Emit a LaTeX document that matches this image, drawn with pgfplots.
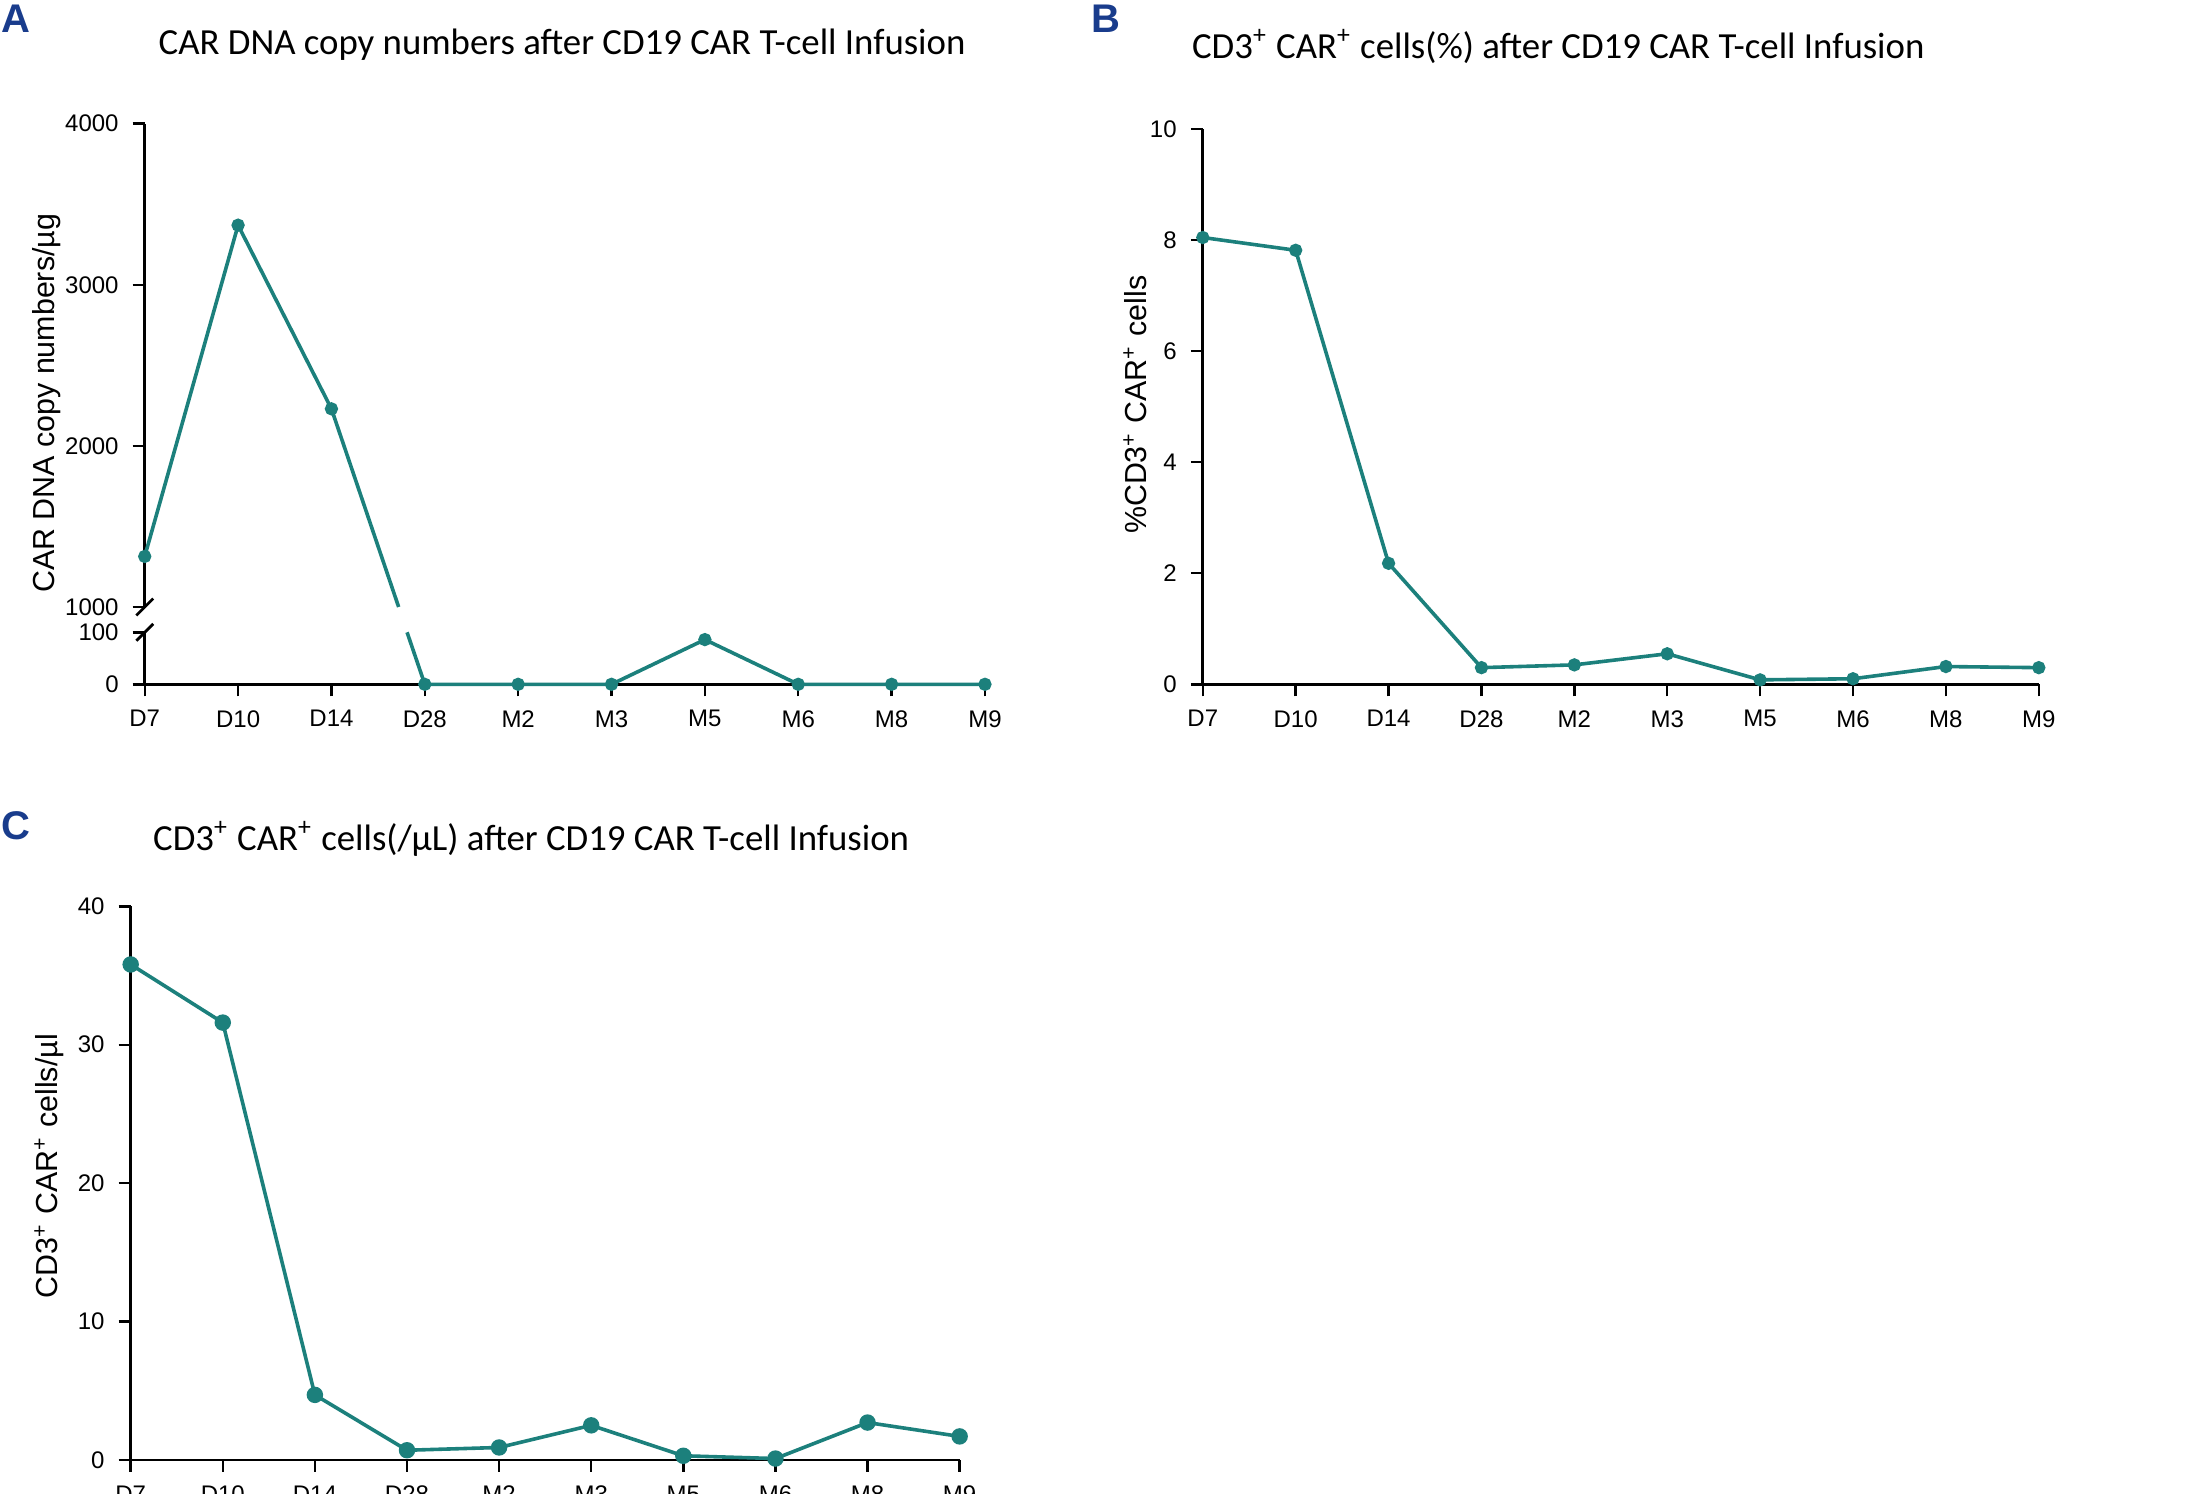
\documentclass[border=0pt]{standalone}
\usepackage{pgfplots}
\pgfplotsset{compat=1.18}
\usepackage{fontspec}
\setmainfont{Liberation Sans}
\newfontfamily\titlefont{Carlito}
\definecolor{teal1}{RGB}{28,128,124}
\definecolor{letblue}{RGB}{25,60,140}
\def\u{0.3513pt}
\pgfplotsset{
 base/.style={scale only axis, axis lines=left, axis line style={-,line width=0.7pt},
  tick style={black,line width=0.6pt}, tick align=outside, major tick length=3pt,
  ticklabel style={font=\fontsize{6}{7}\selectfont},
  xmin=0,xmax=9, xtick={0,...,9}, xticklabels={D7,D10,D14,D28,M2,M3,M5,M6,M8,M9},
  /pgf/number format/assume math mode=true, /pgf/number format/1000 sep={}, clip=false},
 ser/.style={teal1, line width=0.9pt, mark=*, mark size=1.2pt}
}
\begin{document}
\begin{tikzpicture}
\useasboundingbox (0,0) rectangle (1560*\u,-1063*\u);
% Panel A upper
\begin{axis}[base, at={(103*\u,-432*\u)}, anchor=south west, width=598*\u, height=344*\u,
  ymin=1000,ymax=4000, ytick={1000,2000,3000,4000}, x axis line style={draw=none},
  xtick=\empty, clip=true]
\addplot[ser] coordinates {(0,1314)(1,3370)(2,2230)};
\addplot[teal1, line width=0.9pt] coordinates {(2,2230)(2.72,1000)};
\end{axis}
% Panel A lower
\begin{axis}[base, at={(103*\u,-487*\u)}, anchor=south west, width=598*\u, height=37*\u,
  ymin=0,ymax=100, ytick={0,100}]
\addplot[teal1, line width=0.9pt] coordinates {(2.81,100)(3,0)};
\addplot[ser] coordinates {(3,0)(4,0)(5,0)(6,86)(7,0)(8,0)(9,0)};
\end{axis}
\draw[line width=0.7pt] (97*\u,-438*\u) -- (109*\u,-426*\u);
\draw[line width=0.7pt] (97*\u,-456*\u) -- (109*\u,-444*\u);
% Panel B
\begin{axis}[base, at={(856*\u,-487*\u)}, anchor=south west, width=595*\u, height=395*\u,
  ymin=0,ymax=10, ytick={0,2,...,10}]
\addplot[ser] coordinates {(0,8.05)(1,7.82)(2,2.18)(3,0.3)(4,0.35)(5,0.55)(6,0.08)(7,0.1)(8,0.32)(9,0.3)};
\end{axis}
% Panel C
\begin{axis}[base, at={(93*\u,-1039*\u)}, anchor=south west, width=590*\u, height=394*\u,
  ymin=0,ymax=40, ytick={0,10,...,40}]
\addplot[ser, mark size=1.6pt] coordinates {(0,35.8)(1,31.6)(2,4.7)(3,0.7)(4,0.9)(5,2.5)(6,0.3)(7,0.1)(8,2.7)(9,1.7)};
\end{axis}
% titles
\node[font=\titlefont\fontsize{9.2}{11}\selectfont] at (400*\u,-32*\u) {CAR DNA copy numbers after CD19 CAR T-cell Infusion};
\node[font=\titlefont\fontsize{9.2}{11}\selectfont] at (1109*\u,-33*\u) {CD3\textsuperscript{+} CAR\textsuperscript{+} cells(\%) after CD19 CAR T-cell Infusion};
\node[font=\titlefont\fontsize{9.2}{11}\selectfont] at (378*\u,-597*\u) {CD3\textsuperscript{+} CAR\textsuperscript{+} cells(/µL) after CD19 CAR T-cell Infusion};
% y labels
\node[rotate=90,font=\fontsize{7.6}{9}\selectfont] at (33*\u,-287*\u) {CAR DNA copy numbers/µg};
\node[rotate=90,font=\fontsize{7.6}{9}\selectfont] at (808*\u,-288*\u) {\%CD3\textsuperscript{+} CAR\textsuperscript{+} cells};
\node[rotate=90,font=\fontsize{7.6}{9}\selectfont] at (35*\u,-830*\u) {CD3\textsuperscript{+} CAR\textsuperscript{+} cells/µl};
% panel letters
\node[inner sep=0pt,font=\bfseries\fontsize{10}{12}\selectfont, text=letblue] at (11*\u,-13*\u) {A};
\node[inner sep=0pt,font=\bfseries\fontsize{10}{12}\selectfont, text=letblue] at (787*\u,-13*\u) {B};
\node[inner sep=0pt,font=\bfseries\fontsize{10}{12}\selectfont, text=letblue] at (11*\u,-588*\u) {C};
\end{tikzpicture}
\end{document}
